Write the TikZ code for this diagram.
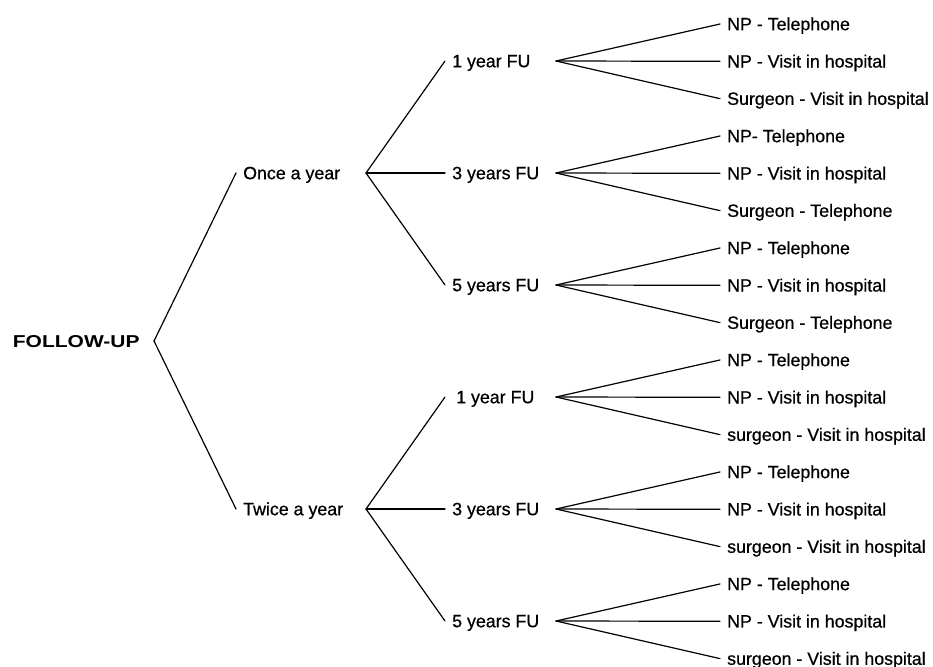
\documentclass[tikz,border=0pt]{standalone}
\usepackage{fontspec}
\setmainfont[FakeBold=0.7,AutoFakeBold=0.7]{Liberation Sans}
\newfontfamily\rootfont{Liberation Sans}
\begin{document}
\begin{tikzpicture}[x=1pt,y=-1pt,
  lbl/.style={anchor=west,inner xsep=7pt,inner ysep=0pt,text height=12.4pt,text depth=0pt,font=\fontsize{17.8}{21}\selectfont\bfseries},
  br/.style={line width=1.2pt,line cap=round}]
\useasboundingbox (0,0) rectangle (933,666);
% root
\node[lbl,inner xsep=0pt,font=\fontsize{17.2}{21}\rootfont\bfseries] (root) at (12.7,341) {\scalebox{1.22}[1]{FOLLOW-UP}};
\coordinate (v0) at (154,341);
% level 1
\node[lbl] (once) at (236,173) {Once a year};
\node[lbl] (twice) at (236,509) {Twice a year};
\coordinate (v1) at (366,173);
\coordinate (v2) at (366,509);
\draw[br] (v0) -- (once.west);
\draw[br] (v0) -- (twice.west);
% level 2
\node[lbl] (n1) at (445,61) {1 year FU};
\node[lbl] (n2) at (445,173) {3 years FU};
\node[lbl] (n3) at (445,285) {5 years FU};
\node[lbl,inner xsep=11pt] (n4) at (445,397) {1 year FU};
\node[lbl] (n5) at (445,509) {3 years FU};
\node[lbl] (n6) at (445,621) {5 years FU};
\foreach \i in {1,2,3} {\draw[br] (v1) -- (n\i.west);}
\foreach \i in {4,5,6} {\draw[br] (v2) -- (n\i.west);}
\foreach \i in {1,...,6} {\pgfmathsetmacro\yy{61+112*(\i-1)}\coordinate (w\i) at (556,\yy);}
% leaves
\foreach \lab [count=\j] in {NP - Telephone,NP - Visit in hospital,Surgeon - Visit in hospital,
  NP- Telephone,NP - Visit in hospital,Surgeon - Telephone,
  NP - Telephone,NP - Visit in hospital,Surgeon - Telephone,
  NP - Telephone,NP - Visit in hospital,surgeon - Visit in hospital,
  NP - Telephone,NP - Visit in hospital,surgeon - Visit in hospital,
  NP - Telephone,NP - Visit in hospital,surgeon - Visit in hospital}{
  \pgfmathsetmacro\yy{24+37.33*(\j-1)}
  \pgfmathtruncatemacro\p{int((\j-1)/3)+1}
  \node[lbl] (f\j) at (720,\yy) {\lab};
  \draw[br] (w\p) -- (f\j.west);
}
\end{tikzpicture}
\end{document}
